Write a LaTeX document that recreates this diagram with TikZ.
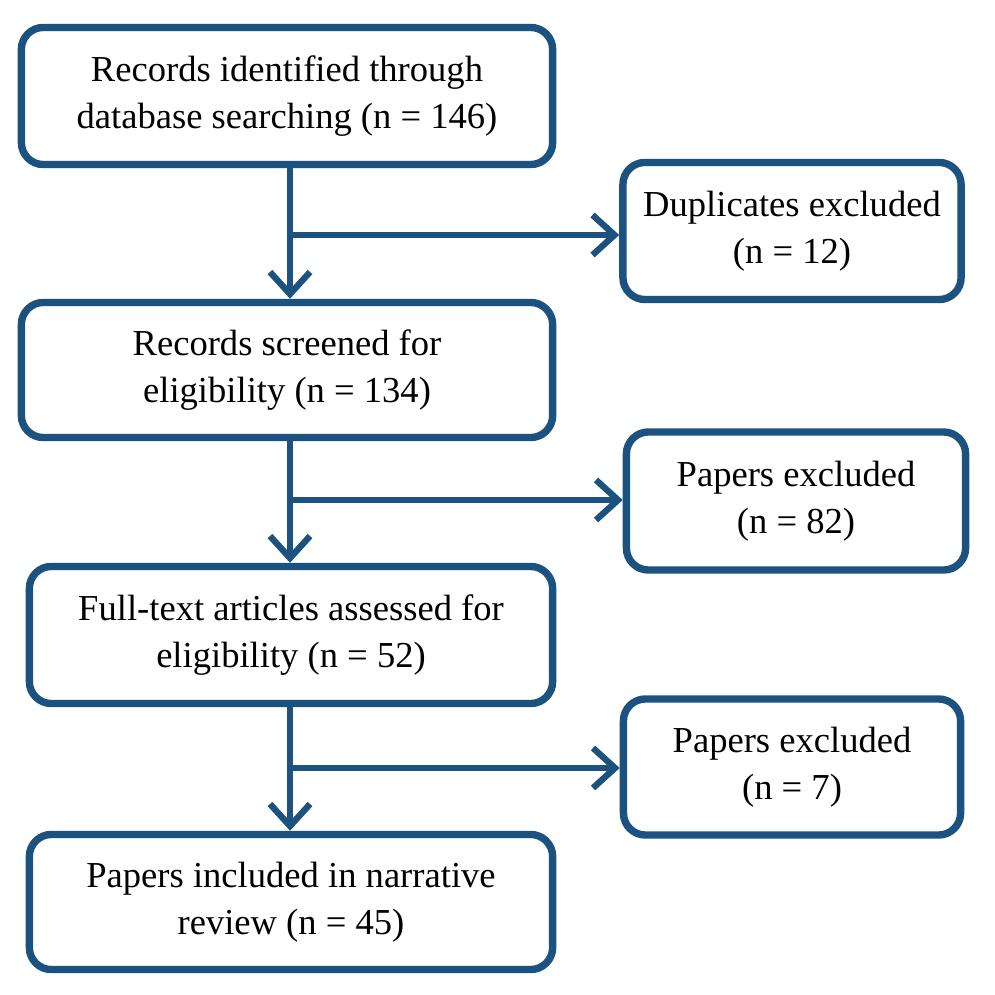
\documentclass[tikz,border=0pt]{standalone}
\usepackage{fontspec}
\setmainfont{Liberation Serif}
\usepackage{tikz}
\usetikzlibrary{arrows.meta}
\definecolor{prismablue}{HTML}{1B527F}
\tikzset{
  stage/.style={draw=prismablue, line width=2.1pt, rounded corners=0.22cm, fill=white,
    align=center, font=\fontsize{10.4}{13.4}\selectfont, inner sep=0pt},
  flow/.style={draw=prismablue, line width=1.8pt, -{Straight Barb[length=0.22cm, width=0.4cm, line width=1.8pt]}}
}
\begin{document}
\begin{tikzpicture}[x=0.01cm, y=-0.01cm]
\useasboundingbox (0,0) rectangle (995,995);
\node[stage, minimum width=5.31cm, minimum height=1.37cm] (records) at (287,96){Records identified through\\database searching (n = 146)};%
\node[stage, minimum width=3.38cm, minimum height=1.37cm] (dups) at (792,231){Duplicates excluded\\(n = 12)};%
\node[stage, minimum width=5.31cm, minimum height=1.35cm] (screened) at (287,370){Records screened for\\eligibility (n = 134)};%
\node[stage, minimum width=3.39cm, minimum height=1.38cm] (excl1) at (796,501){Papers excluded\\(n = 82)};%
\node[stage, minimum width=5.23cm, minimum height=1.37cm] (fulltext) at (291,635){Full-text articles assessed for\\eligibility (n = 52)};%
\node[stage, minimum width=3.37cm, minimum height=1.36cm] (excl2) at (792,767){Papers excluded\\(n = 7)};%
\node[stage, minimum width=5.23cm, minimum height=1.35cm] (included) at (291,902){Papers included in narrative\\review (n = 45)};%
\coordinate (split1) at (290,235);
\coordinate (split2) at (290,500);
\coordinate (split3) at (290,768);
\draw[flow] (records.south -| split1) -- (screened.north -| split1);
\draw[flow] (split1) -- (dups.west |- split1);
\draw[flow] (screened.south -| split2) -- (fulltext.north -| split2);
\draw[flow] (split2) -- (excl1.west |- split2);
\draw[flow] (fulltext.south -| split3) -- (included.north -| split3);
\draw[flow] (split3) -- (excl2.west |- split3);
\end{tikzpicture}
\end{document}
